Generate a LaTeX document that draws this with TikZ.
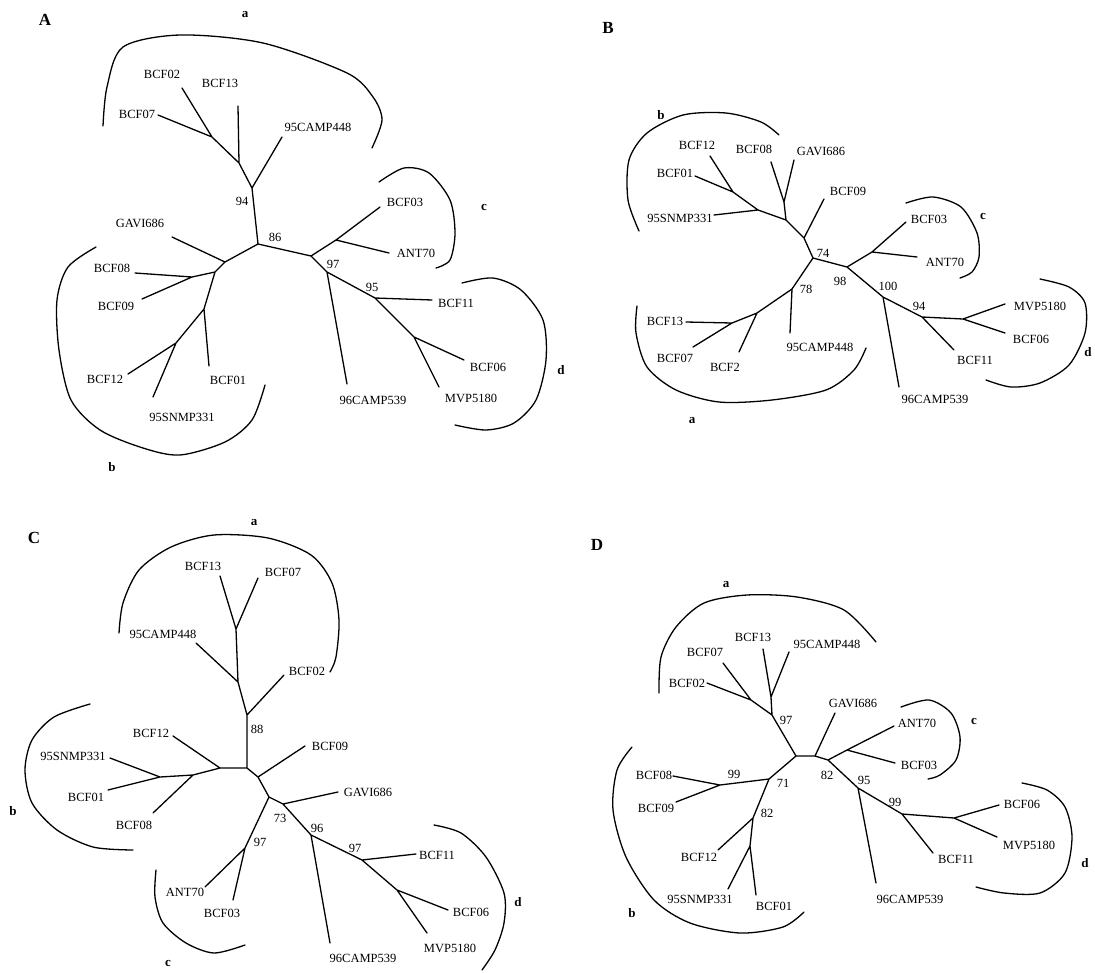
\documentclass[tikz,border=0pt]{standalone}
\usepackage{fontspec}
\setmainfont{Liberation Serif}
\begin{document}
\begin{tikzpicture}[x=1pt,y=-1pt,
  branch/.style={line width=1.3pt,line cap=round,line join=round},
  clade/.style={line width=1.3pt,line cap=round},
  taxon/.style={inner sep=0pt,font=\fontsize{12.5}{13}\selectfont},
  boot/.style={inner sep=0pt,font=\fontsize{12.5}{13}\selectfont},
  panel/.style={inner sep=0pt,font=\bfseries\fontsize{17}{17}\selectfont},
  group/.style={inner sep=0pt,font=\bfseries\fontsize{13}{13}\selectfont}]
\useasboundingbox (0,0) rectangle (1095,972);

% ================= Panel A =================
\node[panel] (A-title) at (45,20) {A};
\coordinate (Ac) at (258,244);
\coordinate (A94) at (252,188);
\coordinate (A13j) at (239,163);
\coordinate (A27j) at (212,137);
\coordinate (A02) at (182,88);
\coordinate (A07) at (158,115);
\coordinate (A13) at (238,106);
\coordinate (A448) at (282,137);
\coordinate (Ar) at (311,256);
\coordinate (A37j) at (336,240);
\coordinate (A03) at (380,207);
\coordinate (A70) at (389,253);
\coordinate (A97) at (327,272);
\coordinate (A539) at (347,384);
\coordinate (A95) at (375,298);
\coordinate (A11) at (432,300);
\coordinate (A6j) at (414,337);
\coordinate (A06) at (464,360);
\coordinate (A5180) at (439,387);
\coordinate (Al) at (225,262);
\coordinate (A686) at (172,237);
\coordinate (Al2) at (215,272);
\coordinate (A89j) at (192,277);
\coordinate (A08) at (135,273);
\coordinate (A09) at (142,299);
\coordinate (Al3) at (204,309);
\coordinate (A01) at (209,366);
\coordinate (Al4) at (176,343);
\coordinate (A12) at (128,374);
\coordinate (A331) at (153,397);

\draw[branch] (Ac)--(A94) (A94)--(A13j) (A13j)--(A27j) (A27j)--(A02) (A27j)--(A07)
  (A13j)--(A13) (A94)--(A448)
  (Ac)--(Ar) (Ar)--(A37j) (A37j)--(A03) (A37j)--(A70) (Ar)--(A97) (A97)--(A539)
  (A97)--(A95) (A95)--(A11) (A95)--(A6j) (A6j)--(A06) (A6j)--(A5180)
  (Ac)--(Al) (Al)--(A686) (Al)--(Al2) (Al2)--(A89j) (A89j)--(A08) (A89j)--(A09)
  (Al2)--(Al3) (Al3)--(A01) (Al3)--(Al4) (Al4)--(A12) (Al4)--(A331);

\node[taxon] (A-l02) at (162,74) {BCF02};
\node[taxon] (A-l07) at (137,114) {BCF07};
\node[taxon] (A-l13) at (220,83) {BCF13};
\node[taxon] (A-l448) at (318,127) {95CAMP448};
\node[taxon] (A-l03) at (405,202) {BCF03};
\node[taxon] (A-l70) at (416,253) {ANT70};
\node[taxon] (A-l539) at (373,400) {96CAMP539};
\node[taxon] (A-l11) at (456,303) {BCF11};
\node[taxon] (A-l06) at (488,367) {BCF06};
\node[taxon] (A-l5180) at (471,398) {MVP5180};
\node[taxon] (A-l686) at (140,223) {GAVI686};
\node[taxon] (A-l08) at (112,268) {BCF08};
\node[taxon] (A-l09) at (116,306) {BCF09};
\node[taxon] (A-l01) at (228,380) {BCF01};
\node[taxon] (A-l12) at (105,379) {BCF12};
\node[taxon] (A-l331) at (182,417) {95SNMP331};

\node[boot] (A-b94) at (242,201) {94};
\node[boot] (A-b86) at (275,237) {86};
\node[boot] (A-b97) at (333,264) {97};
\node[boot] (A-b95) at (372,287) {95};

\node[group] (A-ga) at (245,15) {a};
\node[group] (A-gb) at (112,467) {b};
\node[group] (A-gc) at (484,207) {c};
\node[group] (A-gd) at (561,370) {d};

\draw[clade] plot[smooth] coordinates {(103,126) (107,87) (123,47) (180,35) (263,43) (347,73) (373,97) (382,120) (372,148)};
\draw[clade] plot[smooth] coordinates {(379,182) (404,168) (429,173) (450,200) (455,233) (450,260) (436,268)};
\draw[clade] plot[smooth] coordinates {(462,283) (493,278) (521,290) (543,320) (546,360) (536,400) (514,423) (486,430) (455,425)};
\draw[clade] plot[smooth] coordinates {(96,247) (68,267) (57,300) (59,350) (71,400) (100,430) (143,448) (180,455) (225,442) (252,420) (265,385)};

% ================= Panel B =================
\node[panel] (B-title) at (608,28) {B};
\coordinate (Bc) at (813,258);
\coordinate (B09j) at (804,238);
\coordinate (B0j) at (786,220);
\coordinate (B8gj) at (784,202);
\coordinate (B08) at (771,162);
\coordinate (B686) at (794,160);
\coordinate (B09) at (824,199);
\coordinate (B331j) at (758,210);
\coordinate (B331) at (714,215);
\coordinate (B12j) at (733,192);
\coordinate (B12) at (710,156);
\coordinate (B01) at (695,176);
\coordinate (Br) at (847,267);
\coordinate (B37j) at (872,252);
\coordinate (B03) at (906,222);
\coordinate (B70) at (917,257);
\coordinate (B100) at (883,297);
\coordinate (B539) at (899,387);
\coordinate (B94) at (922,317);
\coordinate (B11) at (954,350);
\coordinate (B6j) at (963,319);
\coordinate (B5180) at (1005,304);
\coordinate (B06) at (1005,333);
\coordinate (B78) at (792,289);
\coordinate (B448) at (790,333);
\coordinate (B2j) at (757,313);
\coordinate (B2) at (739,352);
\coordinate (B13j) at (732,323);
\coordinate (B13) at (686,322);
\coordinate (B07) at (693,347);

\draw[branch] (Bc)--(B09j) (B09j)--(B09) (B09j)--(B0j) (B0j)--(B8gj) (B8gj)--(B08) (B8gj)--(B686)
  (B0j)--(B331j) (B331j)--(B331) (B331j)--(B12j) (B12j)--(B12) (B12j)--(B01)
  (Bc)--(Br) (Br)--(B37j) (B37j)--(B03) (B37j)--(B70) (Br)--(B100) (B100)--(B539)
  (B100)--(B94) (B94)--(B11) (B94)--(B6j) (B6j)--(B5180) (B6j)--(B06)
  (Bc)--(B78) (B78)--(B448) (B78)--(B2j) (B2j)--(B2) (B2j)--(B13j) (B13j)--(B13) (B13j)--(B07);

\node[taxon] (B-l12) at (697,145) {BCF12};
\node[taxon] (B-l08) at (754,149) {BCF08};
\node[taxon] (B-l686) at (821,151) {GAVI686};
\node[taxon] (B-l01) at (675,173) {BCF01};
\node[taxon] (B-l331) at (680,218) {95SNMP331};
\node[taxon] (B-l09) at (848,191) {BCF09};
\node[taxon] (B-l03) at (929,219) {BCF03};
\node[taxon] (B-l70) at (945,262) {ANT70};
\node[taxon] (B-l539) at (935,399) {96CAMP539};
\node[taxon] (B-l11) at (975,360) {BCF11};
\node[taxon] (B-l5180) at (1040,306) {MVP5180};
\node[taxon] (B-l06) at (1031,339) {BCF06};
\node[taxon] (B-l448) at (820,347) {95CAMP448};
\node[taxon] (B-l2) at (725,367) {BCF2};
\node[taxon] (B-l13) at (665,321) {BCF13};
\node[taxon] (B-l07) at (675,358) {BCF07};

\node[boot] (B-b74) at (823,253) {74};
\node[boot] (B-b98) at (840,281) {98};
\node[boot] (B-b100) at (888,286) {100};
\node[boot] (B-b94) at (919,306) {94};
\node[boot] (B-b78) at (806,289) {78};

\node[group] (B-ga) at (692,421) {a};
\node[group] (B-gb) at (661,115) {b};
\node[group] (B-gc) at (983,216) {c};
\node[group] (B-gd) at (1088,352) {d};

\draw[clade] plot[smooth] coordinates {(639,231) (628,200) (629,160) (647,133) (683,115) (726,113) (761,122) (779,135)};
\draw[clade] plot[smooth] coordinates {(906,203) (933,197) (961,207) (977,233) (979,257) (972,272) (960,278)};
\draw[clade] plot[smooth] coordinates {(1040,279) (1069,287) (1085,303) (1085,333) (1069,365) (1040,383) (1011,387) (986,380)};
\draw[clade] plot[smooth] coordinates {(637,306) (636,333) (647,367) (676,390) (719,402) (772,400) (826,390) (854,370) (866,348)};

% ================= Panel C =================
\node[panel] (C-title) at (34,538) {C};
\coordinate (Cc) at (247,768);
\coordinate (C88) at (247,715);
\coordinate (C02) at (284,675);
\coordinate (C448j) at (238,682);
\coordinate (C448) at (196,643);
\coordinate (C137j) at (236,629);
\coordinate (C13) at (220,576);
\coordinate (C07) at (258,578);
\coordinate (Cl) at (220,768);
\coordinate (C12) at (173,736);
\coordinate (Cl2) at (193,775);
\coordinate (C08) at (153,813);
\coordinate (Cl3) at (160,777);
\coordinate (C331) at (110,758);
\coordinate (C01) at (108,790);
\coordinate (Cr) at (258,777);
\coordinate (C09) at (305,746);
\coordinate (C73) at (269,797);
\coordinate (C97) at (245,848);
\coordinate (C70) at (205,887);
\coordinate (C03) at (233,900);
\coordinate (Cgj) at (283,804);
\coordinate (C686) at (338,792);
\coordinate (C96) at (311,835);
\coordinate (C539) at (330,943);
\coordinate (C97b) at (362,860);
\coordinate (C11) at (416,854);
\coordinate (C6j) at (397,890);
\coordinate (C06) at (448,910);
\coordinate (C5180) at (427,933);

\draw[branch] (Cc)--(C88) (C88)--(C02) (C88)--(C448j) (C448j)--(C448) (C448j)--(C137j)
  (C137j)--(C13) (C137j)--(C07)
  (Cc)--(Cl) (Cl)--(C12) (Cl)--(Cl2) (Cl2)--(C08) (Cl2)--(Cl3) (Cl3)--(C331) (Cl3)--(C01)
  (Cc)--(Cr) (Cr)--(C09) (Cr)--(C73) (C73)--(C97) (C97)--(C70) (C97)--(C03)
  (C73)--(Cgj) (Cgj)--(C686) (Cgj)--(C96) (C96)--(C539) (C96)--(C97b) (C97b)--(C11)
  (C97b)--(C6j) (C6j)--(C06) (C6j)--(C5180);

\node[taxon] (C-l13) at (203,566) {BCF13};
\node[taxon] (C-l07) at (283,572) {BCF07};
\node[taxon] (C-l448) at (163,634) {95CAMP448};
\node[taxon] (C-l02) at (307,671) {BCF02};
\node[taxon] (C-l12) at (151,733) {BCF12};
\node[taxon] (C-l331) at (73,756) {95SNMP331};
\node[taxon] (C-l01) at (86,797) {BCF01};
\node[taxon] (C-l08) at (134,825) {BCF08};
\node[taxon] (C-l09) at (330,746) {BCF09};
\node[taxon] (C-l686) at (368,792) {GAVI686};
\node[taxon] (C-l70) at (185,892) {ANT70};
\node[taxon] (C-l03) at (222,913) {BCF03};
\node[taxon] (C-l539) at (363,958) {96CAMP539};
\node[taxon] (C-l11) at (437,855) {BCF11};
\node[taxon] (C-l06) at (471,912) {BCF06};
\node[taxon] (C-l5180) at (450,948) {MVP5180};

\node[boot] (C-b88) at (257,729) {88};
\node[boot] (C-b73) at (280,818) {73};
\node[boot] (C-b97) at (260,842) {97};
\node[boot] (C-b96) at (317,828) {96};
\node[boot] (C-b97b) at (355,848) {97};

\node[group] (C-ga) at (254,523) {a};
\node[group] (C-gb) at (13,811) {b};
\node[group] (C-gc) at (168,963) {c};
\node[group] (C-gd) at (518,902) {d};

\draw[clade] plot[smooth] coordinates {(119,633) (123,603) (139,570) (171,547) (214,535) (268,538) (311,555) (332,583) (339,620) (336,657) (330,672)};
\draw[clade] plot[smooth] coordinates {(90,704) (54,717) (32,740) (25,770) (32,803) (57,830) (93,847) (133,850)};
\draw[clade] plot[smooth] coordinates {(156,870) (155,897) (163,923) (186,943) (214,953) (245,945)};
\draw[clade] plot[smooth] coordinates {(434,825) (461,833) (486,857) (504,893) (504,923) (495,950) (482,970)};

% ================= Panel D =================
\node[panel] (D-title) at (597,545) {D};
\coordinate (Dcl) at (796,756);
\coordinate (Dcr) at (815,756);
\coordinate (D97) at (772,715);
\coordinate (D27j) at (751,700);
\coordinate (D02) at (707,683);
\coordinate (D07) at (723,663);
\coordinate (D13j) at (771,697);
\coordinate (D13) at (763,649);
\coordinate (D448) at (789,652);
\coordinate (D686) at (835,713);
\coordinate (D82r) at (828,760);
\coordinate (D37j) at (847,750);
\coordinate (D70) at (894,726);
\coordinate (D03) at (895,763);
\coordinate (D95) at (858,788);
\coordinate (D539) at (876,883);
\coordinate (D99r) at (902,814);
\coordinate (D11) at (933,853);
\coordinate (D6j) at (954,818);
\coordinate (D06) at (999,805);
\coordinate (D5180) at (997,837);
\coordinate (D71) at (769,779);
\coordinate (D99) at (720,785);
\coordinate (D08) at (673,776);
\coordinate (D09) at (676,802);
\coordinate (D82) at (753,818);
\coordinate (D12) at (718,850);
\coordinate (D331j) at (750,846);
\coordinate (D331) at (728,889);
\coordinate (D01) at (756,895);

\draw[branch] (Dcl)--(Dcr) (Dcl)--(D97) (D97)--(D27j) (D27j)--(D02) (D27j)--(D07)
  (D97)--(D13j) (D13j)--(D13) (D13j)--(D448)
  (Dcr)--(D686) (Dcr)--(D82r) (D82r)--(D37j) (D37j)--(D70) (D37j)--(D03)
  (D82r)--(D95) (D95)--(D539) (D95)--(D99r) (D99r)--(D11) (D99r)--(D6j) (D6j)--(D06) (D6j)--(D5180)
  (Dcl)--(D71) (D71)--(D99) (D99)--(D08) (D99)--(D09) (D71)--(D82) (D82)--(D12)
  (D82)--(D331j) (D331j)--(D331) (D331j)--(D01);

\node[taxon] (D-l07) at (705,652) {BCF07};
\node[taxon] (D-l13) at (753,637) {BCF13};
\node[taxon] (D-l448) at (827,644) {95CAMP448};
\node[taxon] (D-l02) at (687,683) {BCF02};
\node[taxon] (D-l686) at (853,703) {GAVI686};
\node[taxon] (D-l70) at (917,723) {ANT70};
\node[taxon] (D-l03) at (919,765) {BCF03};
\node[taxon] (D-l539) at (910,899) {96CAMP539};
\node[taxon] (D-l11) at (956,859) {BCF11};
\node[taxon] (D-l06) at (1022,804) {BCF06};
\node[taxon] (D-l5180) at (1029,845) {MVP5180};
\node[taxon] (D-l08) at (654,775) {BCF08};
\node[taxon] (D-l09) at (656,808) {BCF09};
\node[taxon] (D-l12) at (699,857) {BCF12};
\node[taxon] (D-l331) at (700,899) {95SNMP331};
\node[taxon] (D-l01) at (774,906) {BCF01};

\node[boot] (D-b97) at (786,720) {97};
\node[boot] (D-b82r) at (827,775) {82};
\node[boot] (D-b95) at (864,780) {95};
\node[boot] (D-b99r) at (895,802) {99};
\node[boot] (D-b71) at (783,783) {71};
\node[boot] (D-b99) at (734,774) {99};
\node[boot] (D-b82) at (767,813) {82};

\node[group] (D-ga) at (726,585) {a};
\node[group] (D-gb) at (632,913) {b};
\node[group] (D-gc) at (974,721) {c};
\node[group] (D-gd) at (1085,863) {d};

\draw[clade] plot[smooth] coordinates {(659,693) (661,657) (676,627) (704,603) (747,595) (797,597) (844,610) (876,642)};
\draw[clade] plot[smooth] coordinates {(632,747) (617,770) (613,810) (626,857) (654,900) (690,923) (740,933) (783,927) (804,912)};
\draw[clade] plot[smooth] coordinates {(901,707) (929,700) (951,713) (960,737) (956,760) (940,775) (928,779)};
\draw[clade] plot[smooth] coordinates {(1022,783) (1047,790) (1065,807) (1072,837) (1065,873) (1040,893) (1004,893) (976,887)};
\end{tikzpicture}
\end{document}
